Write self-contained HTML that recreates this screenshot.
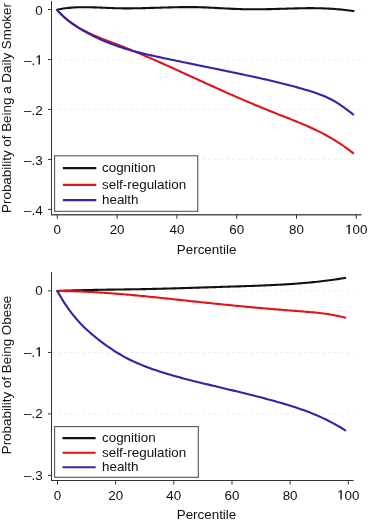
<!DOCTYPE html>
<html><head><meta charset="utf-8"><style>
html,body{margin:0;padding:0;background:#fff;}
svg{display:block;will-change:transform;}
text{font-family:"Liberation Sans",sans-serif;font-size:13.4px;fill:#111;}
</style></head><body>
<svg width="368" height="522" viewBox="0 0 368 522">
<defs><path id="one" fill="#111" d="M500,0 L500,1220 L190,1000 L190,1175 L525,1420 L715,1420 L715,0 Z"/></defs>
<rect width="368" height="522" fill="#fff"/>
<line x1="52.0" y1="9.5" x2="361.5" y2="9.5" stroke="#efefef" stroke-width="1" stroke-dasharray="3 3"/>
<line x1="52.0" y1="59.5" x2="361.5" y2="59.5" stroke="#efefef" stroke-width="1" stroke-dasharray="3 3"/>
<line x1="52.0" y1="109.4" x2="361.5" y2="109.4" stroke="#efefef" stroke-width="1" stroke-dasharray="3 3"/>
<line x1="52.0" y1="159.4" x2="361.5" y2="159.4" stroke="#efefef" stroke-width="1" stroke-dasharray="3 3"/>
<path d="M57.20,9.70 L59.20,9.28 L61.20,8.91 L63.20,8.58 L65.20,8.30 L67.20,8.05 L69.20,7.84 L71.20,7.67 L73.20,7.52 L75.20,7.40 L77.20,7.31 L79.20,7.25 L81.20,7.21 L83.20,7.19 L85.20,7.18 L87.20,7.20 L89.20,7.23 L91.20,7.27 L93.20,7.33 L95.20,7.39 L97.20,7.46 L99.20,7.54 L101.20,7.63 L103.20,7.71 L105.20,7.80 L107.20,7.89 L109.20,7.97 L111.20,8.05 L113.20,8.12 L115.20,8.18 L117.20,8.23 L119.20,8.28 L121.20,8.31 L123.20,8.33 L125.20,8.34 L127.20,8.35 L129.20,8.35 L131.20,8.33 L133.20,8.32 L135.20,8.29 L137.20,8.26 L139.20,8.23 L141.20,8.18 L143.20,8.14 L145.20,8.09 L147.20,8.04 L149.20,7.98 L151.20,7.92 L153.20,7.87 L155.20,7.80 L157.20,7.74 L159.20,7.68 L161.20,7.62 L163.20,7.56 L165.20,7.50 L167.20,7.44 L169.20,7.39 L171.20,7.34 L173.20,7.29 L175.20,7.24 L177.20,7.20 L179.20,7.17 L181.20,7.14 L183.20,7.12 L185.20,7.10 L187.20,7.09 L189.20,7.09 L191.20,7.09 L193.20,7.11 L195.20,7.13 L197.20,7.17 L199.20,7.21 L201.20,7.27 L203.20,7.33 L205.20,7.41 L207.20,7.49 L209.20,7.58 L211.20,7.68 L213.20,7.78 L215.20,7.88 L217.20,7.99 L219.20,8.10 L221.20,8.21 L223.20,8.32 L225.20,8.43 L227.20,8.54 L229.20,8.64 L231.20,8.74 L233.20,8.84 L235.20,8.92 L237.20,9.00 L239.20,9.07 L241.20,9.13 L243.20,9.18 L245.20,9.22 L247.20,9.26 L249.20,9.28 L251.20,9.30 L253.20,9.30 L255.20,9.30 L257.20,9.29 L259.20,9.28 L261.20,9.26 L263.20,9.23 L265.20,9.20 L267.20,9.17 L269.20,9.13 L271.20,9.08 L273.20,9.03 L275.20,8.98 L277.20,8.92 L279.20,8.87 L281.20,8.81 L283.20,8.75 L285.20,8.69 L287.20,8.62 L289.20,8.56 L291.20,8.50 L293.20,8.45 L295.20,8.39 L297.20,8.34 L299.20,8.30 L301.20,8.26 L303.20,8.22 L305.20,8.19 L307.20,8.17 L309.20,8.16 L311.20,8.16 L313.20,8.17 L315.20,8.18 L317.20,8.21 L319.20,8.25 L321.20,8.30 L323.20,8.37 L325.20,8.45 L327.20,8.54 L329.20,8.65 L331.20,8.76 L333.20,8.90 L335.20,9.04 L337.20,9.20 L339.20,9.37 L341.20,9.56 L343.20,9.76 L345.20,9.97 L347.20,10.20 L349.20,10.44 L351.20,10.70 L353.20,10.96 L353.50,11.01" fill="none" stroke="#111" stroke-width="2.1" stroke-linecap="round" stroke-linejoin="round"/>
<path d="M57.20,10.10 L59.20,12.31 L61.20,14.37 L63.20,16.30 L65.20,18.11 L67.20,19.80 L69.20,21.39 L71.20,22.88 L73.20,24.28 L75.20,25.60 L77.20,26.85 L79.20,28.03 L81.20,29.16 L83.20,30.24 L85.20,31.28 L87.20,32.28 L89.20,33.24 L91.20,34.17 L93.20,35.06 L95.20,35.93 L97.20,36.77 L99.20,37.59 L101.20,38.39 L103.20,39.18 L105.20,39.95 L107.20,40.71 L109.20,41.47 L111.20,42.23 L113.20,42.98 L115.20,43.74 L117.20,44.51 L119.20,45.28 L121.20,46.06 L123.20,46.85 L125.20,47.64 L127.20,48.44 L129.20,49.25 L131.20,50.07 L133.20,50.89 L135.20,51.72 L137.20,52.55 L139.20,53.39 L141.20,54.23 L143.20,55.08 L145.20,55.94 L147.20,56.80 L149.20,57.66 L151.20,58.53 L153.20,59.40 L155.20,60.28 L157.20,61.16 L159.20,62.05 L161.20,62.94 L163.20,63.83 L165.20,64.72 L167.20,65.62 L169.20,66.52 L171.20,67.42 L173.20,68.33 L175.20,69.23 L177.20,70.14 L179.20,71.05 L181.20,71.96 L183.20,72.88 L185.20,73.79 L187.20,74.70 L189.20,75.62 L191.20,76.53 L193.20,77.45 L195.20,78.37 L197.20,79.28 L199.20,80.20 L201.20,81.11 L203.20,82.03 L205.20,82.94 L207.20,83.85 L209.20,84.76 L211.20,85.67 L213.20,86.58 L215.20,87.48 L217.20,88.39 L219.20,89.29 L221.20,90.18 L223.20,91.08 L225.20,91.97 L227.20,92.86 L229.20,93.74 L231.20,94.63 L233.20,95.50 L235.20,96.38 L237.20,97.25 L239.20,98.12 L241.20,98.98 L243.20,99.84 L245.20,100.70 L247.20,101.55 L249.20,102.40 L251.20,103.25 L253.20,104.09 L255.20,104.93 L257.20,105.76 L259.20,106.59 L261.20,107.42 L263.20,108.24 L265.20,109.06 L267.20,109.87 L269.20,110.68 L271.20,111.48 L273.20,112.28 L275.20,113.08 L277.20,113.87 L279.20,114.66 L281.20,115.44 L283.20,116.23 L285.20,117.01 L287.20,117.80 L289.20,118.59 L291.20,119.38 L293.20,120.18 L295.20,120.98 L297.20,121.80 L299.20,122.62 L301.20,123.45 L303.20,124.30 L305.20,125.16 L307.20,126.03 L309.20,126.92 L311.20,127.82 L313.20,128.75 L315.20,129.69 L317.20,130.66 L319.20,131.64 L321.20,132.66 L323.20,133.69 L325.20,134.76 L327.20,135.85 L329.20,136.97 L331.20,138.12 L333.20,139.30 L335.20,140.52 L337.20,141.77 L339.20,143.06 L341.20,144.38 L343.20,145.75 L345.20,147.15 L347.20,148.59 L349.20,150.08 L351.20,151.61 L353.20,153.19" fill="none" stroke="#e0141a" stroke-width="2.1" stroke-linecap="round" stroke-linejoin="round"/>
<path d="M57.20,10.10 L59.20,12.28 L61.20,14.31 L63.20,16.20 L65.20,17.98 L67.20,19.64 L69.20,21.22 L71.20,22.70 L73.20,24.12 L75.20,25.48 L77.20,26.79 L79.20,28.06 L81.20,29.30 L83.20,30.49 L85.20,31.65 L87.20,32.78 L89.20,33.87 L91.20,34.92 L93.20,35.95 L95.20,36.94 L97.20,37.90 L99.20,38.83 L101.20,39.73 L103.20,40.61 L105.20,41.46 L107.20,42.28 L109.20,43.07 L111.20,43.85 L113.20,44.59 L115.20,45.32 L117.20,46.02 L119.20,46.70 L121.20,47.36 L123.20,48.01 L125.20,48.63 L127.20,49.23 L129.20,49.82 L131.20,50.39 L133.20,50.95 L135.20,51.49 L137.20,52.02 L139.20,52.53 L141.20,53.03 L143.20,53.53 L145.20,54.01 L147.20,54.48 L149.20,54.94 L151.20,55.39 L153.20,55.84 L155.20,56.28 L157.20,56.71 L159.20,57.15 L161.20,57.57 L163.20,57.99 L165.20,58.42 L167.20,58.83 L169.20,59.25 L171.20,59.67 L173.20,60.09 L175.20,60.50 L177.20,60.92 L179.20,61.33 L181.20,61.75 L183.20,62.16 L185.20,62.57 L187.20,62.98 L189.20,63.39 L191.20,63.81 L193.20,64.22 L195.20,64.63 L197.20,65.04 L199.20,65.45 L201.20,65.86 L203.20,66.27 L205.20,66.68 L207.20,67.09 L209.20,67.50 L211.20,67.91 L213.20,68.32 L215.20,68.73 L217.20,69.14 L219.20,69.55 L221.20,69.97 L223.20,70.38 L225.20,70.79 L227.20,71.21 L229.20,71.62 L231.20,72.04 L233.20,72.46 L235.20,72.87 L237.20,73.29 L239.20,73.71 L241.20,74.13 L243.20,74.56 L245.20,74.98 L247.20,75.41 L249.20,75.84 L251.20,76.27 L253.20,76.70 L255.20,77.14 L257.20,77.58 L259.20,78.02 L261.20,78.47 L263.20,78.92 L265.20,79.38 L267.20,79.83 L269.20,80.30 L271.20,80.77 L273.20,81.24 L275.20,81.72 L277.20,82.20 L279.20,82.69 L281.20,83.18 L283.20,83.68 L285.20,84.19 L287.20,84.70 L289.20,85.22 L291.20,85.75 L293.20,86.28 L295.20,86.82 L297.20,87.37 L299.20,87.93 L301.20,88.49 L303.20,89.06 L305.20,89.64 L307.20,90.23 L309.20,90.83 L311.20,91.45 L313.20,92.08 L315.20,92.74 L317.20,93.43 L319.20,94.15 L321.20,94.92 L323.20,95.72 L325.20,96.57 L327.20,97.47 L329.20,98.43 L331.20,99.44 L333.20,100.52 L335.20,101.67 L337.20,102.89 L339.20,104.17 L341.20,105.51 L343.20,106.90 L345.20,108.34 L347.20,109.83 L349.20,111.36 L351.20,112.92 L353.20,114.51" fill="none" stroke="#3424a6" stroke-width="2.1" stroke-linecap="round" stroke-linejoin="round"/>
<line x1="51.5" y1="1" x2="51.5" y2="215.3" stroke="#333" stroke-width="1"/>
<line x1="51.0" y1="214.8" x2="361.5" y2="214.8" stroke="#505050" stroke-width="1.4"/>
<line x1="48.0" y1="9.5" x2="51.5" y2="9.5" stroke="#333" stroke-width="1"/>
<text x="42.700" y="14.600" text-anchor="end">0</text>
<line x1="48.0" y1="59.5" x2="51.5" y2="59.5" stroke="#333" stroke-width="1"/>
<text x="35.248" y="64.600" text-anchor="end">–.</text><use href="#one" transform="translate(35.248,64.600) scale(0.006543,-0.006543)"/>
<line x1="48.0" y1="109.4" x2="51.5" y2="109.4" stroke="#333" stroke-width="1"/>
<text x="42.700" y="114.500" text-anchor="end">–.2</text>
<line x1="48.0" y1="159.4" x2="51.5" y2="159.4" stroke="#333" stroke-width="1"/>
<text x="42.700" y="164.500" text-anchor="end">–.3</text>
<line x1="48.0" y1="209.4" x2="51.5" y2="209.4" stroke="#333" stroke-width="1"/>
<text x="42.700" y="214.500" text-anchor="end">–.4</text>
<line x1="57.3" y1="214.8" x2="57.3" y2="218.8" stroke="#333" stroke-width="1"/>
<text x="57.300" y="234.100" text-anchor="middle">0</text>
<line x1="117.1" y1="214.8" x2="117.1" y2="218.8" stroke="#333" stroke-width="1"/>
<text x="117.100" y="234.100" text-anchor="middle">20</text>
<line x1="176.9" y1="214.8" x2="176.9" y2="218.8" stroke="#333" stroke-width="1"/>
<text x="176.900" y="234.100" text-anchor="middle">40</text>
<line x1="236.7" y1="214.8" x2="236.7" y2="218.8" stroke="#333" stroke-width="1"/>
<text x="236.700" y="234.100" text-anchor="middle">60</text>
<line x1="296.5" y1="214.8" x2="296.5" y2="218.8" stroke="#333" stroke-width="1"/>
<text x="296.500" y="234.100" text-anchor="middle">80</text>
<line x1="356.3" y1="214.8" x2="356.3" y2="218.8" stroke="#333" stroke-width="1"/>
<use href="#one" transform="translate(345.121,234.100) scale(0.006543,-0.006543)"/><text x="352.574" y="234.100">00</text>
<text x="206.6" y="254.2" text-anchor="middle">Percentile</text>
<text x="0" y="0" text-anchor="middle" transform="translate(11.1,108) rotate(-90)">Probability of Being a Daily Smoker</text>
<rect x="54.6" y="155.8" width="143.20000000000002" height="55.5" fill="#fff" stroke="#555" stroke-width="1.1"/>
<line x1="62.9" y1="168.1" x2="96.3" y2="168.1" stroke="#111" stroke-width="2.1"/>
<text x="102" y="172.2">cognition</text>
<line x1="62.9" y1="184.9" x2="96.3" y2="184.9" stroke="#e0141a" stroke-width="2.1"/>
<text x="102" y="189.0">self-regulation</text>
<line x1="62.9" y1="200.1" x2="96.3" y2="200.1" stroke="#3424a6" stroke-width="2.1"/>
<text x="102" y="204.2">health</text>
<line x1="52.0" y1="290.9" x2="353.6" y2="290.9" stroke="#efefef" stroke-width="1" stroke-dasharray="3 3"/>
<line x1="52.0" y1="352.45" x2="353.6" y2="352.45" stroke="#efefef" stroke-width="1" stroke-dasharray="3 3"/>
<line x1="52.0" y1="413.9" x2="353.6" y2="413.9" stroke="#efefef" stroke-width="1" stroke-dasharray="3 3"/>
<path d="M57.40,291.00 L59.40,290.91 L61.40,290.83 L63.40,290.75 L65.40,290.67 L67.40,290.60 L69.40,290.53 L71.40,290.47 L73.40,290.40 L75.40,290.34 L77.40,290.28 L79.40,290.23 L81.40,290.18 L83.40,290.13 L85.40,290.08 L87.40,290.03 L89.40,289.99 L91.40,289.95 L93.40,289.91 L95.40,289.87 L97.40,289.83 L99.40,289.80 L101.40,289.76 L103.40,289.73 L105.40,289.70 L107.40,289.67 L109.40,289.64 L111.40,289.61 L113.40,289.58 L115.40,289.55 L117.40,289.52 L119.40,289.49 L121.40,289.47 L123.40,289.44 L125.40,289.41 L127.40,289.38 L129.40,289.35 L131.40,289.32 L133.40,289.29 L135.40,289.26 L137.40,289.22 L139.40,289.19 L141.40,289.15 L143.40,289.12 L145.40,289.08 L147.40,289.04 L149.40,289.00 L151.40,288.96 L153.40,288.91 L155.40,288.87 L157.40,288.82 L159.40,288.77 L161.40,288.72 L163.40,288.67 L165.40,288.62 L167.40,288.56 L169.40,288.51 L171.40,288.45 L173.40,288.40 L175.40,288.34 L177.40,288.28 L179.40,288.22 L181.40,288.16 L183.40,288.10 L185.40,288.04 L187.40,287.98 L189.40,287.92 L191.40,287.85 L193.40,287.79 L195.40,287.73 L197.40,287.66 L199.40,287.60 L201.40,287.53 L203.40,287.47 L205.40,287.40 L207.40,287.34 L209.40,287.27 L211.40,287.21 L213.40,287.14 L215.40,287.08 L217.40,287.01 L219.40,286.95 L221.40,286.89 L223.40,286.82 L225.40,286.76 L227.40,286.70 L229.40,286.64 L231.40,286.57 L233.40,286.51 L235.40,286.45 L237.40,286.39 L239.40,286.33 L241.40,286.26 L243.40,286.20 L245.40,286.13 L247.40,286.07 L249.40,286.00 L251.40,285.93 L253.40,285.86 L255.40,285.79 L257.40,285.71 L259.40,285.64 L261.40,285.56 L263.40,285.48 L265.40,285.39 L267.40,285.30 L269.40,285.21 L271.40,285.12 L273.40,285.02 L275.40,284.92 L277.40,284.82 L279.40,284.71 L281.40,284.60 L283.40,284.48 L285.40,284.36 L287.40,284.24 L289.40,284.11 L291.40,283.98 L293.40,283.84 L295.40,283.69 L297.40,283.54 L299.40,283.39 L301.40,283.23 L303.40,283.06 L305.40,282.88 L307.40,282.71 L309.40,282.52 L311.40,282.33 L313.40,282.13 L315.40,281.92 L317.40,281.71 L319.40,281.49 L321.40,281.26 L323.40,281.02 L325.40,280.78 L327.40,280.53 L329.40,280.27 L331.40,280.00 L333.40,279.73 L335.40,279.44 L337.40,279.15 L339.40,278.85 L341.40,278.54 L343.40,278.21 L345.20,277.92" fill="none" stroke="#111" stroke-width="2.1" stroke-linecap="round" stroke-linejoin="round"/>
<path d="M57.40,291.00 L59.40,291.01 L61.40,291.03 L63.40,291.06 L65.40,291.09 L67.40,291.13 L69.40,291.17 L71.40,291.22 L73.40,291.28 L75.40,291.34 L77.40,291.41 L79.40,291.48 L81.40,291.56 L83.40,291.65 L85.40,291.74 L87.40,291.83 L89.40,291.93 L91.40,292.03 L93.40,292.14 L95.40,292.26 L97.40,292.37 L99.40,292.50 L101.40,292.63 L103.40,292.76 L105.40,292.89 L107.40,293.03 L109.40,293.18 L111.40,293.32 L113.40,293.47 L115.40,293.63 L117.40,293.79 L119.40,293.95 L121.40,294.12 L123.40,294.28 L125.40,294.46 L127.40,294.63 L129.40,294.81 L131.40,294.99 L133.40,295.17 L135.40,295.36 L137.40,295.54 L139.40,295.73 L141.40,295.93 L143.40,296.12 L145.40,296.32 L147.40,296.52 L149.40,296.72 L151.40,296.92 L153.40,297.12 L155.40,297.33 L157.40,297.54 L159.40,297.75 L161.40,297.95 L163.40,298.17 L165.40,298.38 L167.40,298.59 L169.40,298.80 L171.40,299.02 L173.40,299.23 L175.40,299.45 L177.40,299.66 L179.40,299.88 L181.40,300.09 L183.40,300.31 L185.40,300.52 L187.40,300.74 L189.40,300.95 L191.40,301.17 L193.40,301.38 L195.40,301.60 L197.40,301.81 L199.40,302.02 L201.40,302.23 L203.40,302.44 L205.40,302.65 L207.40,302.86 L209.40,303.07 L211.40,303.28 L213.40,303.48 L215.40,303.69 L217.40,303.89 L219.40,304.10 L221.40,304.30 L223.40,304.50 L225.40,304.70 L227.40,304.90 L229.40,305.10 L231.40,305.30 L233.40,305.50 L235.40,305.69 L237.40,305.88 L239.40,306.08 L241.40,306.27 L243.40,306.46 L245.40,306.65 L247.40,306.84 L249.40,307.02 L251.40,307.21 L253.40,307.39 L255.40,307.58 L257.40,307.76 L259.40,307.94 L261.40,308.12 L263.40,308.29 L265.40,308.47 L267.40,308.64 L269.40,308.82 L271.40,308.99 L273.40,309.16 L275.40,309.33 L277.40,309.49 L279.40,309.66 L281.40,309.82 L283.40,309.98 L285.40,310.14 L287.40,310.30 L289.40,310.46 L291.40,310.61 L293.40,310.77 L295.40,310.92 L297.40,311.07 L299.40,311.22 L301.40,311.37 L303.40,311.52 L305.40,311.68 L307.40,311.84 L309.40,312.00 L311.40,312.18 L313.40,312.36 L315.40,312.56 L317.40,312.77 L319.40,312.99 L321.40,313.23 L323.40,313.49 L325.40,313.76 L327.40,314.05 L329.40,314.37 L331.40,314.71 L333.40,315.07 L335.40,315.46 L337.40,315.87 L339.40,316.32 L341.40,316.79 L343.40,317.30 L345.20,317.78" fill="none" stroke="#e0141a" stroke-width="2.1" stroke-linecap="round" stroke-linejoin="round"/>
<path d="M57.40,291.00 L59.40,294.62 L61.40,298.06 L63.40,301.33 L65.40,304.43 L67.40,307.38 L69.40,310.18 L71.40,312.84 L73.40,315.38 L75.40,317.79 L77.40,320.10 L79.40,322.31 L81.40,324.42 L83.40,326.45 L85.40,328.40 L87.40,330.28 L89.40,332.09 L91.40,333.84 L93.40,335.53 L95.40,337.17 L97.40,338.77 L99.40,340.33 L101.40,341.85 L103.40,343.34 L105.40,344.80 L107.40,346.23 L109.40,347.62 L111.40,348.98 L113.40,350.30 L115.40,351.58 L117.40,352.82 L119.40,354.02 L121.40,355.19 L123.40,356.31 L125.40,357.40 L127.40,358.45 L129.40,359.46 L131.40,360.45 L133.40,361.39 L135.40,362.31 L137.40,363.20 L139.40,364.06 L141.40,364.89 L143.40,365.70 L145.40,366.49 L147.40,367.25 L149.40,367.99 L151.40,368.71 L153.40,369.41 L155.40,370.10 L157.40,370.77 L159.40,371.43 L161.40,372.07 L163.40,372.70 L165.40,373.32 L167.40,373.92 L169.40,374.51 L171.40,375.10 L173.40,375.67 L175.40,376.23 L177.40,376.79 L179.40,377.33 L181.40,377.87 L183.40,378.40 L185.40,378.92 L187.40,379.44 L189.40,379.95 L191.40,380.46 L193.40,380.96 L195.40,381.46 L197.40,381.95 L199.40,382.45 L201.40,382.94 L203.40,383.42 L205.40,383.91 L207.40,384.39 L209.40,384.88 L211.40,385.36 L213.40,385.84 L215.40,386.32 L217.40,386.79 L219.40,387.27 L221.40,387.75 L223.40,388.22 L225.40,388.70 L227.40,389.18 L229.40,389.66 L231.40,390.14 L233.40,390.62 L235.40,391.10 L237.40,391.58 L239.40,392.07 L241.40,392.55 L243.40,393.04 L245.40,393.53 L247.40,394.03 L249.40,394.52 L251.40,395.02 L253.40,395.53 L255.40,396.03 L257.40,396.54 L259.40,397.06 L261.40,397.58 L263.40,398.10 L265.40,398.63 L267.40,399.16 L269.40,399.70 L271.40,400.24 L273.40,400.79 L275.40,401.34 L277.40,401.90 L279.40,402.47 L281.40,403.05 L283.40,403.63 L285.40,404.22 L287.40,404.82 L289.40,405.44 L291.40,406.06 L293.40,406.70 L295.40,407.35 L297.40,408.01 L299.40,408.69 L301.40,409.39 L303.40,410.10 L305.40,410.83 L307.40,411.58 L309.40,412.35 L311.40,413.14 L313.40,413.95 L315.40,414.78 L317.40,415.63 L319.40,416.51 L321.40,417.41 L323.40,418.34 L325.40,419.29 L327.40,420.27 L329.40,421.28 L331.40,422.32 L333.40,423.38 L335.40,424.48 L337.40,425.60 L339.40,426.76 L341.40,427.95 L343.40,429.18 L345.20,430.31" fill="none" stroke="#3424a6" stroke-width="2.1" stroke-linecap="round" stroke-linejoin="round"/>
<line x1="51.5" y1="272" x2="51.5" y2="481.0" stroke="#333" stroke-width="1"/>
<line x1="51.0" y1="480.5" x2="353.6" y2="480.5" stroke="#333" stroke-width="1"/>
<line x1="48.0" y1="290.9" x2="51.5" y2="290.9" stroke="#333" stroke-width="1"/>
<text x="42.700" y="295.000" text-anchor="end">0</text>
<line x1="48.0" y1="352.45" x2="51.5" y2="352.45" stroke="#333" stroke-width="1"/>
<text x="35.248" y="356.550" text-anchor="end">–.</text><use href="#one" transform="translate(35.248,356.550) scale(0.006543,-0.006543)"/>
<line x1="48.0" y1="413.9" x2="51.5" y2="413.9" stroke="#333" stroke-width="1"/>
<text x="42.700" y="418.000" text-anchor="end">–.2</text>
<line x1="48.0" y1="475.4" x2="51.5" y2="475.4" stroke="#333" stroke-width="1"/>
<text x="42.700" y="479.500" text-anchor="end">–.3</text>
<line x1="57.5" y1="480.5" x2="57.5" y2="484.5" stroke="#333" stroke-width="1"/>
<text x="57.500" y="499.600" text-anchor="middle">0</text>
<line x1="115.66" y1="480.5" x2="115.66" y2="484.5" stroke="#333" stroke-width="1"/>
<text x="115.660" y="499.600" text-anchor="middle">20</text>
<line x1="173.82" y1="480.5" x2="173.82" y2="484.5" stroke="#333" stroke-width="1"/>
<text x="173.820" y="499.600" text-anchor="middle">40</text>
<line x1="231.98" y1="480.5" x2="231.98" y2="484.5" stroke="#333" stroke-width="1"/>
<text x="231.980" y="499.600" text-anchor="middle">60</text>
<line x1="290.14" y1="480.5" x2="290.14" y2="484.5" stroke="#333" stroke-width="1"/>
<text x="290.140" y="499.600" text-anchor="middle">80</text>
<line x1="348.3" y1="480.5" x2="348.3" y2="484.5" stroke="#333" stroke-width="1"/>
<use href="#one" transform="translate(337.121,499.600) scale(0.006543,-0.006543)"/><text x="344.574" y="499.600">00</text>
<text x="206.5" y="518.9" text-anchor="middle">Percentile</text>
<text x="0" y="0" text-anchor="middle" transform="translate(11.1,375) rotate(-90)">Probability of Being Obese</text>
<rect x="54.6" y="426.6" width="143.70000000000002" height="50.69999999999999" fill="#fff" stroke="#555" stroke-width="1.1"/>
<line x1="62.5" y1="438.1" x2="95.6" y2="438.1" stroke="#111" stroke-width="2.1"/>
<text x="102" y="442.0">cognition</text>
<line x1="62.5" y1="452.8" x2="95.6" y2="452.8" stroke="#e0141a" stroke-width="2.1"/>
<text x="102" y="456.7">self-regulation</text>
<line x1="62.5" y1="467.2" x2="95.6" y2="467.2" stroke="#3424a6" stroke-width="2.1"/>
<text x="102" y="471.09999999999997">health</text>
</svg>
</body></html>
